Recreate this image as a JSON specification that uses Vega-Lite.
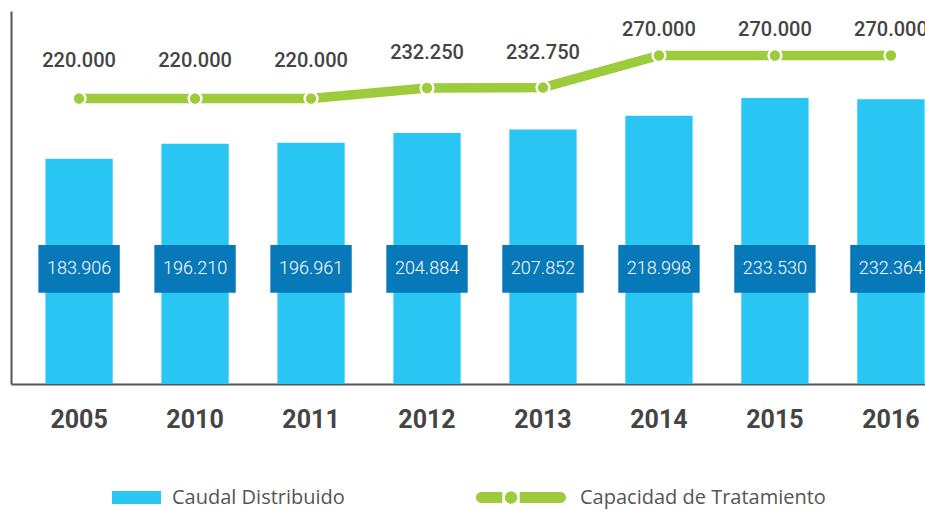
{
  "$schema": "https://vega.github.io/schema/vega-lite/v6.json",
  "width": 914,
  "height": 373,
  "autosize": "none",
  "padding": {"left": 11, "top": 11, "right": 0, "bottom": 126},
  "background": "white",
  "config": {
    "view": {"stroke": null},
    "font": "Roboto",
    "locale": {"number": {"decimal": ",", "thousands": ".", "grouping": [3], "currency": ["", ""]}}
  },
  "data": {
    "values": [
      {"year": "2005", "caudal": 183906, "capacidad": 220000},
      {"year": "2010", "caudal": 196210, "capacidad": 220000},
      {"year": "2011", "caudal": 196961, "capacidad": 220000},
      {"year": "2012", "caudal": 204884, "capacidad": 232250},
      {"year": "2013", "caudal": 207852, "capacidad": 232750},
      {"year": "2014", "caudal": 218998, "capacidad": 270000},
      {"year": "2015", "caudal": 233530, "capacidad": 270000},
      {"year": "2016", "caudal": 232364, "capacidad": 270000}
    ]
  },
  "encoding": {
    "x": {
      "field": "year",
      "type": "nominal",
      "sort": null,
      "scale": {"range": [0, 948], "paddingInner": 0.42, "paddingOuter": 0.297},
      "axis": {
        "title": null,
        "ticks": false,
        "tickSize": 0,
        "labelAngle": 0,
        "labelPadding": 35,
        "labelBaseline": "middle",
        "labelFont": "Roboto",
        "labelFontSize": 25,
        "labelFontWeight": "bold",
        "labelColor": "#444444",
        "domainColor": "#555555",
        "domainWidth": 2,
        "grid": false
      }
    }
  },
  "layer": [
    {
      "layer": [
        {
          "mark": {"type": "bar", "color": "#29C6F4"},
          "encoding": {
            "y": {
              "field": "caudal",
              "type": "quantitative",
              "scale": {"domain": [0, 304500], "nice": false, "zero": false},
              "axis": {"title": null, "labels": false, "ticks": false, "grid": false, "domain": true, "domainColor": "#555555", "domainWidth": 2}
            }
          }
        },
        {
          "mark": {"type": "bar", "color": "#0778B8", "width": {"band": 1.21}},
          "encoding": {"y": {"datum": 74500}, "y2": {"datum": 113500}}
        },
        {
          "mark": {"type": "text", "color": "white", "font": "Roboto", "fontSize": 18, "fontWeight": 300},
          "encoding": {
            "y": {"datum": 94000},
            "text": {"field": "caudal", "type": "quantitative", "format": ",.0f"}
          }
        }
      ]
    },
    {
      "layer": [
        {
          "mark": {"type": "line", "color": "#9DCB3B", "strokeWidth": 9.5, "strokeCap": "round"},
          "encoding": {
            "y": {"field": "capacidad", "type": "quantitative", "scale": {"domain": [-111090, 321600], "nice": false, "zero": false}, "axis": null}
          }
        },
        {
          "mark": {"type": "point", "filled": true, "fill": "#9DCB3B", "stroke": "white", "strokeWidth": 2.4, "size": 165, "opacity": 1, "shape": "circle"},
          "encoding": {
            "y": {"field": "capacidad", "type": "quantitative", "scale": {"domain": [-111090, 321600], "nice": false, "zero": false}, "axis": null}
          }
        }
      ]
    },
    {
      "mark": {"type": "text", "color": "#444444", "font": "Roboto", "fontSize": 20, "fontWeight": 500},
      "encoding": {
        "y": {"field": "capacidad", "type": "quantitative", "scale": {"domain": [-300773, 299870], "nice": false, "zero": false}, "axis": null},
        "text": {"field": "capacidad", "type": "quantitative", "format": ",.0f"}
      }
    },
    {
      "data": {
        "values": [
          {"year": "2005", "serie": "Caudal Distribuido"},
          {"year": "2005", "serie": "Capacidad de Tratamiento"}
        ]
      },
      "mark": {"type": "point", "filled": true, "opacity": 0},
      "encoding": {
        "shape": {
          "field": "serie",
          "type": "nominal",
          "scale": {
            "domain": ["Caudal Distribuido", "Capacidad de Tratamiento"],
            "range": [
              "M-0.022,-0.144H1.066V0.144H-0.022Z",
              "M-0.878,-0.122H-0.415V0.122H-0.878A0.122,0.122,0,0,1,-0.878,-0.122Z M-0.029,-0.122H0.878A0.122,0.122,0,0,1,0.878,0.122H-0.029Z M-0.085,0A0.137,0.137,0,1,1,-0.359,0A0.137,0.137,0,1,1,-0.085,0Z"
            ]
          },
          "legend": {
            "orient": "none",
            "legendX": 57,
            "legendY": 441.5,
            "direction": "horizontal",
            "title": null,
            "symbolSize": 8100,
            "symbolOpacity": 1,
            "symbolStrokeWidth": 0,
            "labelFont": "Open Sans",
            "labelFontSize": 20,
            "labelColor": "#555555",
            "labelOffset": 14,
            "columnPadding": 131,
            "padding": 0,
            "labelLimit": 400
          }
        },
        "fill": {
          "field": "serie",
          "type": "nominal",
          "scale": {
            "domain": ["Caudal Distribuido", "Capacidad de Tratamiento"],
            "range": ["#29C6F4", "#9DCB3B"]
          },
          "legend": {
            "orient": "none",
            "legendX": 57,
            "legendY": 441.5,
            "direction": "horizontal",
            "title": null,
            "symbolSize": 8100,
            "symbolOpacity": 1,
            "symbolStrokeWidth": 0,
            "labelFont": "Open Sans",
            "labelFontSize": 20,
            "labelColor": "#555555",
            "labelOffset": 14,
            "columnPadding": 131,
            "padding": 0,
            "labelLimit": 400
          }
        }
      }
    }
  ],
  "resolve": {"scale": {"y": "independent"}}
}
